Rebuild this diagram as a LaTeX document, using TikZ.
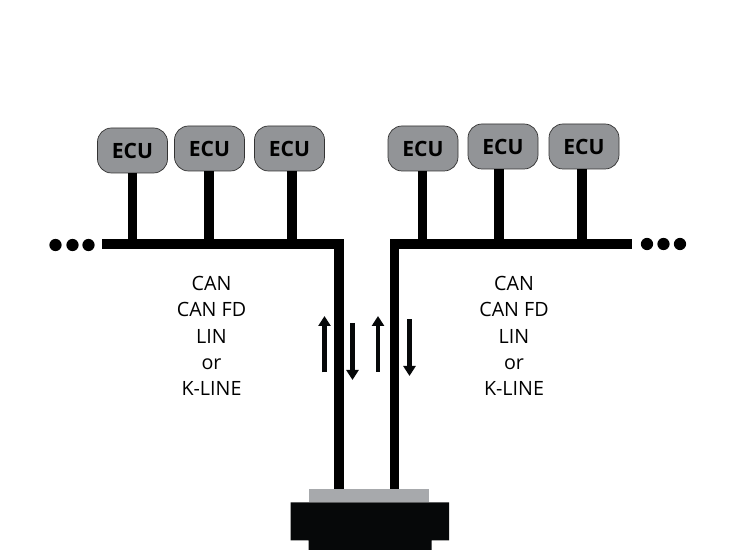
\documentclass[tikz,border=0pt]{standalone}
\usepackage{fontspec}
\setmainfont{Open Sans}
\usetikzlibrary{arrows.meta}
\definecolor{ecugray}{HTML}{929497}
\definecolor{pluggray}{HTML}{A7A9AC}
\definecolor{plugblack}{HTML}{060809}
\tikzset{
  ecu/.style={draw=black!80,line width=0.4pt,fill=ecugray,rounded corners=0.28cm,minimum width=1.4cm,minimum height=0.9cm,inner sep=0pt,font=\fontsize{12}{13}\selectfont\bfseries},
  wire/.style={line width=0.185cm,black},
  dotnode/.style={circle,fill=black,inner sep=0pt,minimum size=0.245cm},
  flow/.style={line width=0.085cm,plugblack,-{Triangle[width=0.24cm,length=0.2cm]}},
  buslabel/.style={align=center,font=\fontsize{11.2}{14.9}\selectfont}
}
\begin{document}
\begin{tikzpicture}
      \useasboundingbox (0,0) rectangle (14.8,11);
      % ECU boxes
      \node[ecu] (ecua) at (2.65,7.99) {ECU};
      \node[ecu] (ecub) at (4.19,8.03) {ECU};
      \node[ecu] (ecuc) at (5.79,8.03) {ECU};
      \node[ecu] (ecud) at (8.46,8.03) {ECU};
      \node[ecu] (ecue) at (10.06,8.07) {ECU};
      \node[ecu] (ecuf) at (11.68,8.07) {ECU};
      % plug
      \fill[plugblack] (5.81,0.95) -- (8.98,0.95) -- (8.98,0.19) -- (8.63,0.19) -- (8.63,0) -- (6.17,0) -- (6.17,0.19) -- (5.81,0.19) -- cycle;
      \node[fill=pluggray,inner sep=0pt,minimum width=2.4cm,minimum height=0.27cm] (plugtop) at (7.37,1.085) {};
      % buses
      \coordinate (busla) at (2.04,6.12);
      \coordinate (buslb) at (6.78,6.12);
      \coordinate (busra) at (12.63,6.12);
      \coordinate (busrb) at (7.89,6.12);
      \draw[wire] (busla) -- (buslb) -- (buslb |- plugtop.north);
      \draw[wire] (busra) -- (busrb) -- (busrb |- plugtop.north);
      % stems
      \coordinate (stema) at (2.65,6.12);
      \coordinate (stemb) at (4.18,6.12);
      \coordinate (stemc) at (5.84,6.12);
      \coordinate (stemd) at (8.45,6.12);
      \coordinate (steme) at (9.98,6.12);
      \coordinate (stemf) at (11.64,6.12);
      \draw[wire] (stema) -- (stema |- ecua.south);
      \draw[wire] (stemb) -- (stemb |- ecub.south);
      \draw[wire] (stemc) -- (stemc |- ecuc.south);
      \draw[wire] (stemd) -- (stemd |- ecud.south);
      \draw[wire] (steme) -- (steme |- ecue.south);
      \draw[wire] (stemf) -- (stemf |- ecuf.south);
      % dots
      \node[dotnode] (dotla) at (1.11,6.10) {};
      \node[dotnode] (dotlb) at (1.45,6.10) {};
      \node[dotnode] (dotlc) at (1.77,6.10) {};
      \node[dotnode] (dotra) at (12.94,6.12) {};
      \node[dotnode] (dotrb) at (13.27,6.12) {};
      \node[dotnode] (dotrc) at (13.60,6.12) {};
      % labels
      \node[buslabel] (canl) at (4.23,4.28) {CAN\\CAN FD\\LIN\\or\\K-LINE};
      \node[buslabel] (canr) at (10.28,4.28) {CAN\\CAN FD\\LIN\\or\\K-LINE};
      % arrows
      \coordinate (upa) at (6.49,3.55);
      \coordinate (upb) at (6.49,4.68);
      \coordinate (downa) at (7.05,4.54);
      \coordinate (downb) at (7.05,3.40);
      \coordinate (upc) at (7.56,3.56);
      \coordinate (upd) at (7.56,4.68);
      \coordinate (downc) at (8.19,4.61);
      \coordinate (downd) at (8.19,3.48);
      \draw[flow] (upa) -- (upb);
      \draw[flow] (downa) -- (downb);
      \draw[flow] (upc) -- (upd);
      \draw[flow] (downc) -- (downd);
\end{tikzpicture}
\end{document}
